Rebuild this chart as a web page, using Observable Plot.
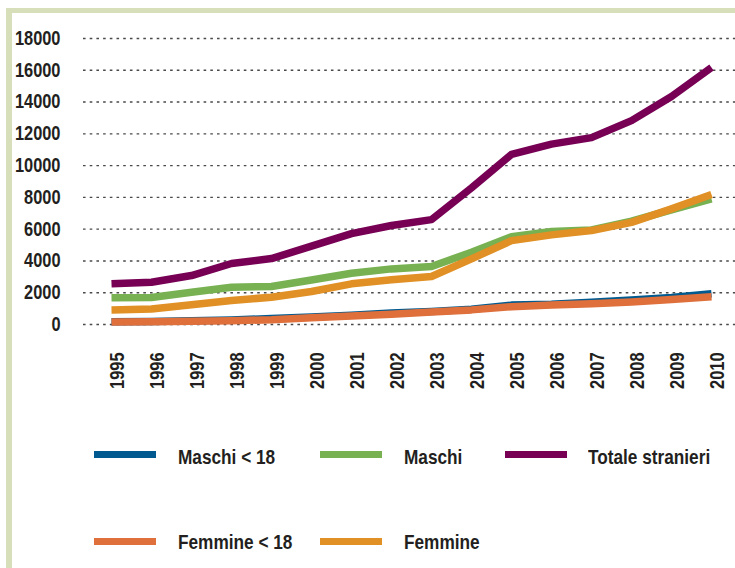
<!DOCTYPE html>
<html>
<head>
<meta charset="utf-8">
<script src="https://cdn.jsdelivr.net/npm/d3@7"></script>
<script src="https://cdn.jsdelivr.net/npm/@observablehq/plot@0.6"></script>
<style>
  html, body { margin: 0; padding: 0; background: #fff; }
  #wrap { position: relative; width: 735px; height: 568px; overflow: hidden; background: #fff;
          font-family: "Liberation Sans", Arial, sans-serif; }
  .bt { position: absolute; left: 6px; top: 8px; width: 729px; height: 5px; background: #d7dfba; }
  .bl { position: absolute; left: 6px; top: 8px; width: 6px; height: 560px; background: #d7dfba; }
  #chart { position: absolute; left: 0; top: 0; }
  .sw { position: absolute; width: 62px; height: 7px; }
  .lt { position: absolute; font-size: 21px; line-height: 21px; font-weight: bold; color: #231f20; white-space: nowrap;
        transform: scaleX(0.82); transform-origin: 0 0; }
</style>
</head>
<body>
<div id="wrap">
  <div class="bt"></div>
  <div class="bl"></div>
  <div id="chart"></div>
  <div id="legend"></div>
</div>
<script>
const years = [1995,1996,1997,1998,1999,2000,2001,2002,2003,2004,2005,2006,2007,2008,2009,2010];
const seriesNames = ["Maschi < 18", "Maschi", "Totale stranieri", "Femmine < 18", "Femmine"];
const seriesColors = ["#005a8f", "#78b152", "#770055", "#df6f3b", "#e09024"];
const maschiU18 = [170,190,230,290,370,480,580,720,820,960,1220,1280,1400,1540,1700,1930];
const maschi    = [1680,1700,2030,2350,2390,2800,3230,3500,3650,4550,5530,5850,5950,6500,7210,7900];
const totale    = [2560,2660,3080,3840,4150,4930,5720,6230,6600,8600,10700,11350,11760,12830,14350,16170];
const femmineU18= [150,170,200,240,300,420,530,650,780,920,1120,1220,1300,1420,1570,1750];
const femmine   = [920,970,1240,1510,1720,2080,2560,2810,3020,4130,5280,5640,5910,6430,7280,8180];
const yTicks = [0,2000,4000,6000,8000,10000,12000,14000,16000,18000];

const seriesValues = [maschiU18, maschi, totale, femmineU18, femmine];
const data = [];
seriesNames.forEach((s, i) => years.forEach((yr, j) => data.push({series: s, year: yr, value: seriesValues[i][j]})));

const font = '"Liberation Sans", Arial, sans-serif';

const chart = Plot.plot({
  width: 735,
  height: 410,
  marginLeft: 104,
  marginRight: 18,
  marginTop: 38,
  marginBottom: 86,
  style: {fontFamily: font, fontSize: "20px", fontWeight: "bold", color: "#231f20", background: "transparent"},
  x: {type: "point", domain: years, padding: 0},
  y: {domain: [0, 18000]},
  color: {domain: seriesNames, range: seriesColors},
  marks: [
    Plot.ruleY(yTicks, {stroke: "#4a4a4a", strokeWidth: 1.4, strokeDasharray: "2.6,4.1", insetLeft: -21, insetRight: -18}),
    Plot.axisY({ticks: yTicks, tickSize: 0, tickPadding: 44, label: null, tickFormat: d => String(d), fill: "#231f20"}),
    Plot.axisX({tickRotate: -90, tickSize: 0, tickPadding: 28, dx: 6, label: null, tickFormat: d => String(d), fill: "#231f20"}),
    Plot.line(data, {x: "year", y: "value", z: "series", stroke: "series", strokeWidth: 7.5, strokeLinejoin: "round", strokeLinecap: "butt"})
  ]
});
document.getElementById("chart").appendChild(chart);

// condense axis text (narrow bold look)
d3.select(chart).selectAll("text").each(function() {
  const len = this.getComputedTextLength();
  if (len > 0) {
    this.setAttribute("textLength", (len * 0.82).toFixed(2));
    this.setAttribute("lengthAdjust", "spacingAndGlyphs");
  }
});

// legend (HTML below the plot)
const legendPos = [
  {x: 94, y: 451, tx: 178, ty: 446},
  {x: 320, y: 451, tx: 404, ty: 446},
  {x: 505, y: 451, tx: 588, ty: 446},
  {x: 94, y: 537.5, tx: 178, ty: 531},
  {x: 320, y: 537.5, tx: 404, ty: 531}
];
const legend = document.getElementById("legend");
seriesNames.forEach((s, i) => {
  const p = legendPos[i];
  const sw = document.createElement("div");
  sw.className = "sw";
  sw.style.left = p.x + "px"; sw.style.top = p.y + "px"; sw.style.background = seriesColors[i];
  legend.appendChild(sw);
  const t = document.createElement("div");
  t.className = "lt";
  t.style.left = p.tx + "px"; t.style.top = p.ty + "px";
  t.textContent = s;
  legend.appendChild(t);
});
</script>
</body>
</html>
